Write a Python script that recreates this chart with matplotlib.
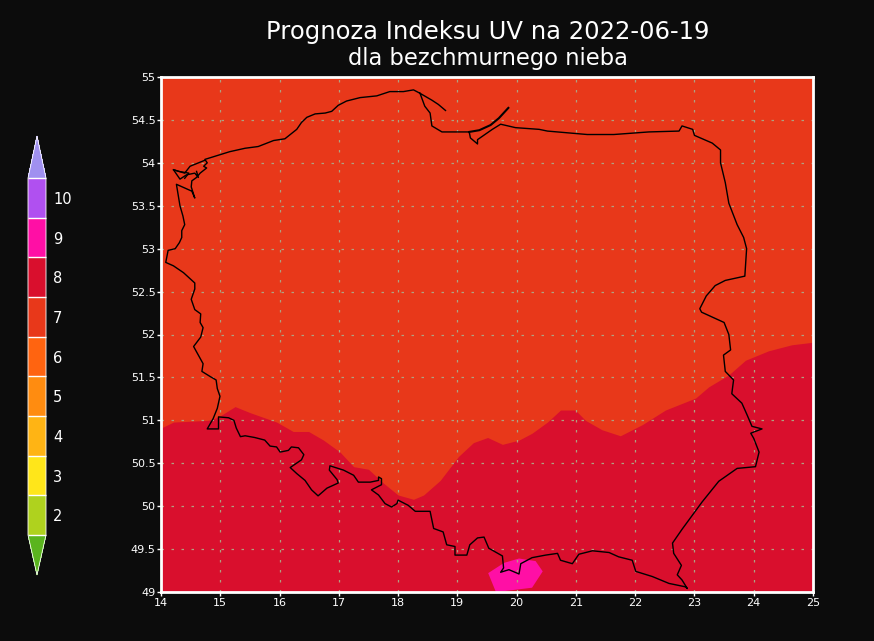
import matplotlib
matplotlib.use('Agg')
import matplotlib.pyplot as plt
from matplotlib.colors import ListedColormap, BoundaryNorm
from matplotlib.cm import ScalarMappable

# UV index classes on the colour bar
uv_labels = [2, 3, 4, 5, 6, 7, 8, 9, 10]
uv_levels = [1.5, 2.5, 3.5, 4.5, 5.5, 6.5, 7.5, 8.5, 9.5, 10.5]
uv_colors = ['#AFD21E', '#FFE61A', '#FFB414', '#FF8C10', '#FF6410',
             '#E8381A', '#D90F2D', '#FF0FA5', '#B050F0']
uv_under = '#5AB41E'
uv_over = '#A090F0'

x_ticks = list(range(14, 26))
y_ticks = [49, 49.5, 50, 50.5, 51, 51.5, 52, 52.5, 53, 53.5, 54, 54.5, 55]
y_labels = ['49', '49.5', '50', '50.5', '51', '51.5', '52', '52.5', '53', '53.5', '54', '54.5', '55']

# 7/8 boundary
edge_lon = [14.0, 14.21, 14.80, 14.97, 15.25, 15.50, 15.95, 16.23, 16.49, 16.74, 17.02, 17.25,
            17.50, 17.75, 18.0, 18.26, 18.43, 18.71, 19.02, 19.27, 19.51, 19.76, 20.04, 20.26,
            20.52, 20.74, 20.99, 21.16, 21.44, 21.75, 22.12, 22.51, 23.02, 23.24, 23.58, 23.86,
            24.25, 24.64, 25.0]
edge_lat = [50.91, 50.98, 51.0, 51.04, 51.16, 51.09, 50.98, 50.87, 50.87, 50.77, 50.63, 50.46,
            50.43, 50.27, 50.13, 50.08, 50.13, 50.30, 50.58, 50.74, 50.80, 50.72, 50.77, 50.85,
            50.98, 51.12, 51.12, 51.0, 50.89, 50.82, 50.95, 51.12, 51.26, 51.39, 51.53, 51.70,
            51.81, 51.88, 51.91]

# patch of class 9 in the south
patch_lon = [19.52, 19.79, 20.04, 20.32, 20.44, 20.26, 19.67, 19.65]
patch_lat = [49.22, 49.34, 49.39, 49.36, 49.24, 49.05, 49.0, 49.0]

# Poland outline, from Hel round the coast, west, south, east and back
border_lon = [18.80, 18.68, 18.57, 18.37, 18.26, 18.09, 17.86, 17.64, 17.36, 17.13, 16.99, 16.88,
              16.77, 16.60, 16.46, 16.37, 16.29, 16.18, 16.09, 15.90, 15.64, 15.42,
              15.16, 14.88, 14.74, 14.78, 14.72, 14.77, 14.66, 14.60, 14.52, 14.51, 14.57, 14.52,
              14.26, 14.32, 14.37, 14.40, 14.35, 14.35, 14.31, 14.24, 14.12, 14.08, 14.21, 14.38,
              14.57, 14.57, 14.51, 14.57, 14.67, 14.66, 14.71, 14.67, 14.55, 14.63, 14.71, 14.69,
              14.83, 14.93, 14.95, 14.995, 14.95, 14.88, 14.78, 14.97, 14.97, 15.14, 15.23, 15.27,
              15.34, 15.42, 15.58, 15.75, 15.84, 15.95, 16.01, 16.15, 16.20, 16.32, 16.41, 16.37,
              16.18, 16.29, 16.43, 16.54, 16.65, 16.80, 16.99, 16.97, 16.84, 16.85, 17.08, 17.25,
              17.33, 17.53, 17.67, 17.67, 17.72, 17.72, 17.55, 17.67, 17.78, 17.89, 17.98, 18.00,
              18.17, 18.29, 18.54, 18.60, 18.76, 18.82, 18.96, 18.96, 19.16, 19.21, 19.34, 19.45,
              19.53, 19.76, 19.78, 19.73, 19.87, 20.04, 20.07, 20.26, 20.49, 20.69, 20.74, 20.94,
              21.05, 21.28, 21.56, 21.72, 21.95, 22.01, 22.29, 22.57, 22.85, 22.88, 22.79, 22.71,
              22.78, 22.65, 22.63, 22.79, 23.13, 23.41, 23.72, 24.03, 24.09, 24.0, 23.95, 24.14,
              23.97, 23.89, 23.80, 23.63, 23.66, 23.52, 23.49, 23.61, 23.58, 23.5, 23.31, 23.12,
              23.09, 23.2, 23.35, 23.52, 23.85, 23.88, 23.83, 23.72, 23.58, 23.52, 23.44, 23.44,
              23.30, 23.0, 22.97, 22.79, 22.74, 22.23, 21.64, 21.19, 20.52, 20.38, 19.98, 19.73,
              19.59, 19.34, 19.34, 19.22, 19.2, 19.0, 18.74, 18.57, 18.54, 18.45, 18.37]
border_lat = [54.61, 54.68, 54.73, 54.81, 54.85, 54.83, 54.83, 54.78, 54.76, 54.72, 54.67, 54.60,
              54.58, 54.57, 54.53, 54.47, 54.39, 54.33, 54.28, 54.26, 54.19, 54.17,
              54.13, 54.07, 54.04, 54.0, 53.96, 53.94, 53.88, 53.83, 53.79, 53.72, 53.59, 53.67,
              53.75, 53.50, 53.38, 53.28, 53.21, 53.13, 53.07, 53.00, 52.98, 52.84, 52.80, 52.72,
              52.60, 52.53, 52.41, 52.29, 52.24, 52.14, 52.08, 51.97, 51.86, 51.76, 51.66, 51.57,
              51.51, 51.47, 51.37, 51.28, 51.14, 51.02, 50.90, 50.90, 51.04, 51.03, 51.0, 50.91,
              50.81, 50.82, 50.80, 50.77, 50.70, 50.69, 50.63, 50.65, 50.69, 50.68, 50.60, 50.54,
              50.45, 50.38, 50.30, 50.19, 50.12, 50.21, 50.27, 50.31, 50.42, 50.47, 50.42, 50.36,
              50.28, 50.28, 50.30, 50.34, 50.32, 50.25, 50.19, 50.13, 50.03, 49.99, 50.03, 50.07,
              50.01, 49.94, 49.94, 49.74, 49.70, 49.55, 49.53, 49.43, 49.43, 49.55, 49.63, 49.64,
              49.51, 49.42, 49.28, 49.23, 49.26, 49.21, 49.33, 49.40, 49.43, 49.45, 49.37, 49.33,
              49.44, 49.48, 49.46, 49.41, 49.37, 49.24, 49.18, 49.10, 49.06, 49.04, 49.14, 49.20,
              49.31, 49.45, 49.57, 49.73, 50.05, 50.29, 50.44, 50.46, 50.63, 50.79, 50.85, 50.90,
              50.93, 51.06, 51.20, 51.31, 51.47, 51.57, 51.76, 51.82, 52.0, 52.14, 52.20, 52.26,
              52.30, 52.45, 52.57, 52.63, 52.68, 53.0, 53.13, 53.28, 53.53, 53.77, 54.0, 54.15,
              54.23, 54.32, 54.39, 54.43, 54.37, 54.36, 54.33, 54.33, 54.37, 54.39, 54.41, 54.45,
              54.39, 54.27, 54.22, 54.29, 54.36, 54.36, 54.36, 54.43, 54.58, 54.66, 54.81]

# Vistula spit
spit_lon = [19.86, 19.70, 19.56, 19.37, 19.2]
spit_lat = [54.64, 54.52, 54.44, 54.38, 54.36]

# Szczecin lagoon shoreline
lagoon_lon = [14.74, 14.49, 14.40, 14.21, 14.32, 14.43, 14.57, 14.63, 14.60]
lagoon_lat = [54.03, 53.96, 53.88, 53.92, 53.81, 53.86, 53.88, 53.83, 53.90]
lagoon2_lon = [14.21, 14.30, 14.47, 14.40]
lagoon2_lat = [53.92, 53.90, 53.88, 53.82]

BG = '#0C0C0C'
plt.rcParams['font.family'] = 'DejaVu Sans'

fig = plt.figure(figsize=(8.74, 6.41), dpi=100, facecolor=BG)
ax = fig.add_axes([161 / 874, 1 - 592 / 641, (813 - 161) / 874, (592 - 77) / 641])
ax.set_facecolor(uv_colors[5])

ax.fill_between(edge_lon, edge_lat, 49, color=uv_colors[6], lw=0, zorder=1)
ax.fill(patch_lon, patch_lat, color=uv_colors[7], lw=0, zorder=2)

ax.set_xlim(14, 25)
ax.set_ylim(49, 55)
ax.set_xticks(x_ticks)
ax.set_yticks(y_ticks)
ax.set_yticklabels(y_labels)
ax.tick_params(colors='white', labelsize=8, length=3, width=1, pad=1)
for s in ax.spines.values():
    s.set_color('white')
    s.set_linewidth(2)
    s.set_zorder(6)
ax.grid(True, color='#B0A080', linewidth=0.9, linestyle=(0, (2, 6)), zorder=3)
ax.set_axisbelow(False)

ax.plot(border_lon, border_lat, color='black', lw=1.0, zorder=4)
ax.plot(spit_lon, spit_lat, color='black', lw=1.5, zorder=4)
ax.plot(lagoon_lon, lagoon_lat, color='black', lw=1.0, zorder=4)
ax.plot(lagoon2_lon, lagoon2_lat, color='black', lw=1.0, zorder=4)

fig.text(488 / 874, 1 - 32 / 641, 'Prognoza Indeksu UV na 2022-06-19', color='white',
         fontsize=17.5, ha='center', va='center')
fig.text(488 / 874, 1 - 58 / 641, 'dla bezchmurnego nieba', color='white',
         fontsize=16.3, ha='center', va='center')

# colour bar with pointed ends; the axes box spans tip to tip
cmap = ListedColormap(uv_colors)
cmap.set_under(uv_under)
cmap.set_over(uv_over)
norm = BoundaryNorm(uv_levels, cmap.N)
cax = fig.add_axes([28 / 874, 1 - 575 / 641, 18 / 874, 439 / 641])
cb = fig.colorbar(ScalarMappable(norm=norm, cmap=cmap), cax=cax, extend='both',
                  extendfrac=[0.112, 0.118], ticks=uv_labels, drawedges=True, spacing='uniform')
cb.dividers.set_color('white')
cb.dividers.set_linewidth(1)
cb.outline.set_edgecolor('white')
cb.outline.set_linewidth(0.6)
cb.ax.tick_params(length=0, colors='white', labelsize=10.5, pad=5)
cb.ax.minorticks_off()

fig.savefig('out.png', dpi=100, facecolor=BG)
